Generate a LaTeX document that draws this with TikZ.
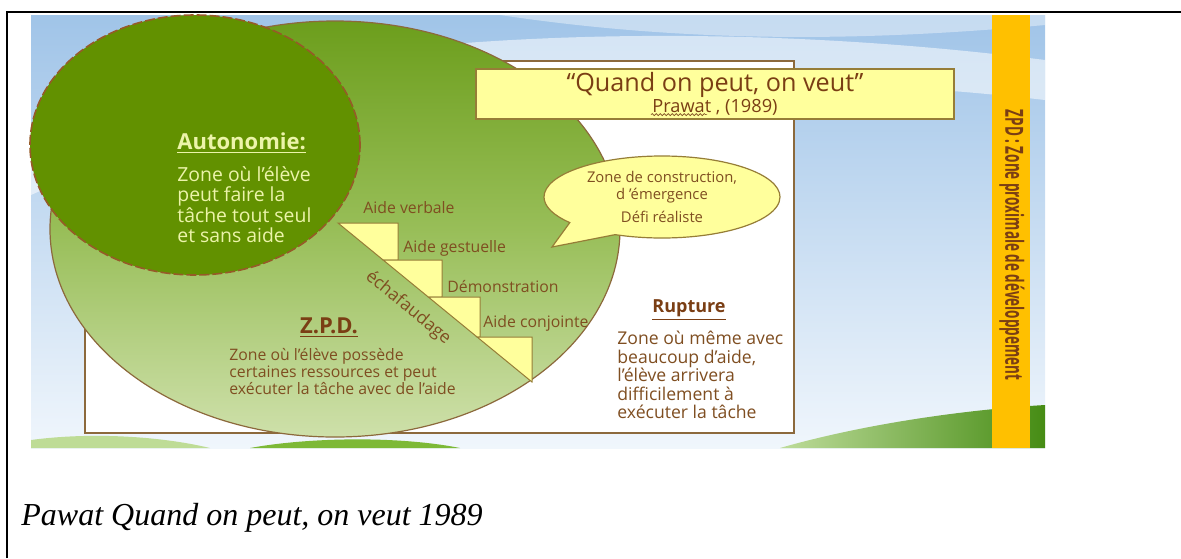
\documentclass[tikz,border=0pt]{standalone}
\usepackage{fontspec}
\setmainfont{Open Sans}
\newfontfamily\capfont{Liberation Serif}
\usepackage{tikz}
\usetikzlibrary{shapes.geometric, shapes.callouts, positioning, calc, decorations.pathmorphing}

\definecolor{zonebrown}{RGB}{127,78,33}
\definecolor{titlebrown}{RGB}{122,62,20}
\definecolor{autopale}{RGB}{236,244,170}
\definecolor{autogreen}{RGB}{98,145,0}
\definecolor{dashbrown}{RGB}{150,90,40}
\definecolor{zpdtop}{RGB}{108,158,28}
\definecolor{zpdmid}{RGB}{152,190,88}
\definecolor{zpdbottom}{RGB}{206,224,170}
\definecolor{edgebrown}{RGB}{140,105,60}
\definecolor{paleyellow}{RGB}{255,255,156}
\definecolor{stepedge}{RGB}{150,125,55}
\definecolor{baryellow}{RGB}{255,192,0}
\definecolor{skyblue}{RGB}{160,196,232}
\definecolor{skylight}{RGB}{240,246,252}
\definecolor{hillpale}{RGB}{190,220,150}
\definecolor{hillgreen}{RGB}{125,185,55}
\definecolor{hilldark}{RGB}{70,140,20}

\begin{document}
\begin{tikzpicture}[
    x=0.5pt, y=-0.5pt,
    zonetext/.style={text=zonebrown, align=left, inner sep=0pt},
    zonetitle/.style={text=titlebrown, inner sep=0pt, font=\bfseries\fontsize{11}{13}\selectfont},
    steplabel/.style={text=zonebrown, anchor=west, inner sep=0pt, font=\fontsize{7.9}{9}\selectfont},
    stepbox/.style={draw=stepedge, fill=paleyellow, line width=0.5pt},
    quotebox/.style={rectangle, draw=stepedge, fill=paleyellow, line width=0.6pt, minimum width=239pt, minimum height=25pt, inner sep=0pt, align=center, text=titlebrown},
    bubble/.style={ellipse callout, draw=stepedge, fill=paleyellow, line width=0.6pt, minimum width=118pt, minimum height=41pt, inner sep=0pt, align=center, text=zonebrown, font=\fontsize{7.4}{8.3}\selectfont}
]
    \useasboundingbox (0,0) rectangle (1181,558);

    \path[top color=skyblue, bottom color=skylight] (31,15) rectangle (1045,448);
    \fill[white, opacity=0.55] (31,130) .. controls (250,40) and (650,10) .. (1045,60) -- (1045,100) .. controls (650,55) and (250,95) .. (31,195) -- cycle;
    \fill[white, opacity=0.4] (500,15) .. controls (700,45) and (880,40) .. (1045,25) -- (1045,15) -- cycle;
    \fill[hillpale] (31,448) -- (31,440) .. controls (90,432) and (160,436) .. (210,448) -- cycle;
    \fill[hillgreen] (250,448) .. controls (310,437) and (400,436) .. (460,448) -- cycle;
    \shade[left color=hillgreen!50, right color=hilldark] (780,448) .. controls (860,425) and (960,410) .. (1045,405) -- (1045,448) -- cycle;
    \fill[baryellow] (992,15) rectangle (1030,448);
    \draw[line width=0.9pt] (7,558) -- (7,12) -- (1181,12);

    \draw[edgebrown, fill=white, line width=0.6pt] (85,61) rectangle (794,433);
    \path[draw=edgebrown, line width=0.6pt, top color=zpdtop, bottom color=zpdbottom, middle color=zpdmid] (335,229) ellipse [x radius=142.5pt, y radius=104pt];
    \path[draw=dashbrown, fill=autogreen, dash pattern=on 5pt off 1.5pt, line width=0.8pt] (195,145) ellipse [x radius=82.5pt, y radius=65pt];

    \foreach \rx/\ta/\tb in {398/223/260, 442/260/297, 480/297/337, 532/337/382}
        \filldraw[stepbox] ({338+(\ta-223)*1.22},\ta) -- (\rx,\ta) -- (\rx,\tb) -- ({338+(\tb-223)*1.22},\tb) -- cycle;

    \node (verbale) [steplabel] at (363,208) {Aide verbale};
    \node (gestuelle) [steplabel] at (403,248) {Aide gestuelle};
    \node (demo) [steplabel] at (447,287) {Démonstration};
    \node (conjointe) [steplabel] at (483,323) {Aide conjointe};
    \node (echaf) [text=zonebrown, inner sep=0pt, rotate=-39.3, font=\fontsize{8.7}{10}\selectfont] at (408,308) {échafaudage};

    \node (autotitle) [zonetitle, text=autopale, anchor=west] at (177,143) {\underline{Autonomie:}};
    \node (autotext) [zonetext, text=autopale, below=6pt of autotitle.south west, anchor=north west, font=\fontsize{9.7}{10.3}\selectfont] {Zone où l’élève\\peut faire la\\tâche tout seul\\et sans aide};

    \node (zpdtitle) [zonetitle] at (329,328) {\underline{Z.P.D.}};
    \node (zpdtext) [zonetext, anchor=north west, font=\fontsize{7.9}{8.5}\selectfont] at (229,348) {Zone où l’élève possède\\certaines ressources et peut\\exécuter la tâche avec de l’aide};

    \node (rupttitle) [zonetitle, font=\bfseries\fontsize{9}{11}\selectfont] at (689,310) {\underline{Rupture}};
    \node (rupttext) [zonetext, anchor=north west, font=\fontsize{8.8}{9.25}\selectfont] at (617,331) {Zone où même avec\\beaucoup d’aide,\\l’élève arrivera\\difficilement à\\exécuter la tâche};

    \node (bubbletxt) [bubble, callout absolute pointer={(552,247)}, callout pointer arc=28] at (662,197) {Zone de construction,\\d ’émergence\\[3pt]Défi réaliste};

    \node (quote) [quotebox, font=\fontsize{9.1}{10.5}\selectfont] at (715,94) {{\fontsize{12.6}{10.5}\selectfont “Quand on peut, on veut”}\\Prawat , (1989)};
    \draw[zonebrown, line width=0.3pt, decorate, decoration={snake, amplitude=0.5pt, segment length=2pt}] ($(quote.south)+(-64,-5)$) -- ++(56,0);

    \node (bartext) [text=titlebrown, inner sep=0pt, rotate=-90, font=\bfseries\fontsize{12.5}{13}\selectfont] at (1012,245) {\scalebox{0.54}[1]{ZPD : Zone proximale de développement}};

    \node (caption) [anchor=base west, inner sep=0pt, font=\capfont\itshape\fontsize{16}{19}\selectfont] at (21,525) {Pawat Quand on peut, on veut 1989};
\end{tikzpicture}
\end{document}
